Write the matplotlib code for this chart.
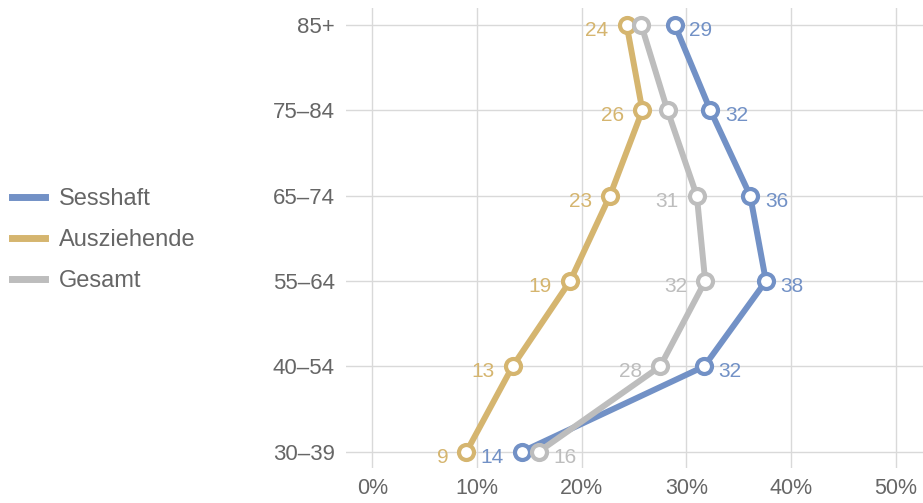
import matplotlib
matplotlib.use("Agg")
import matplotlib.pyplot as plt
from matplotlib.ticker import FuncFormatter

# Daten
altersgruppen = ["30–39", "40–54", "55–64", "65–74", "75–84", "85+"]
sesshaft = [14.3, 31.7, 37.6, 36.1, 32.3, 28.9]
ausziehende = [9.0, 13.4, 18.9, 22.7, 25.8, 24.3]
gesamt = [15.9, 27.5, 31.8, 31.0, 28.2, 25.7]
x_ticks = [0, 10, 20, 30, 40, 50]

plt.rcParams['font.family'] = ['Liberation Sans', 'DejaVu Sans']

BLAU = '#7291c6'
GOLD = '#d5b56f'
GRAU = '#bdbdbd'
TEXT = '#666666'

fig = plt.figure(figsize=(9.23, 5.03), dpi=100)
ax = fig.add_axes([0.3749, 0.0696, 0.6251, 0.9145])

y = list(range(len(altersgruppen)))

# Reihen: (Name, Werte, Farbe, Beschriftungsseite je Punkt)
reihen = [
    ("Sesshaft", sesshaft, BLAU, ['l', 'r', 'r', 'r', 'r', 'r']),
    ("Ausziehende", ausziehende, GOLD, ['l'] * 6),
    ("Gesamt", gesamt, GRAU, ['r', 'l', 'l', 'l', None, None]),
]

for name, werte, farbe, seiten in reihen:
    ax.plot(werte, y, color=farbe, lw=4.3, marker='o', ms=10.8,
            mfc='white', mec=farbe, mew=3.0, label=name, zorder=3,
            solid_capstyle='round')
    for xv, yv, seite in zip(werte, y, seiten):
        if seite is None:
            continue
        if seite == 'r':
            ax.annotate(f"{round(xv):d}", (xv, yv), xytext=(10.5, -3.8),
                        textcoords='offset points', ha='left', va='center',
                        color=farbe, fontsize=15, zorder=4)
        else:
            ax.annotate(f"{round(xv):d}", (xv, yv), xytext=(-13, -3.8),
                        textcoords='offset points', ha='right', va='center',
                        color=farbe, fontsize=15, zorder=4)

ax.set_xlim(-2.5, 52.6)
ax.set_ylim(-0.19, 5.2)
ax.set_yticks(y)
ax.set_yticklabels(altersgruppen)
ax.set_xticks(x_ticks)
ax.xaxis.set_major_formatter(FuncFormatter(lambda v, p: f"{v:.0f}%"))

ax.grid(True, color='#d9d9d9', lw=1)
ax.set_axisbelow(True)
for s in ax.spines.values():
    s.set_visible(False)
ax.tick_params(axis='both', length=0, labelcolor=TEXT)
ax.tick_params(axis='y', pad=8, labelsize=16)
ax.tick_params(axis='x', pad=7, labelsize=15.5)

fig.legend(loc='center left', bbox_to_anchor=(0.013, 0.523), frameon=False,
           fontsize=17, handlelength=1.4, handletextpad=0.6,
           labelspacing=0.8, labelcolor=TEXT, borderpad=0, borderaxespad=0,
           handles=[plt.Line2D([], [], color=c, lw=5) for _, _, c, _ in reihen],
           labels=[n for n, _, _, _ in reihen])

fig.savefig("out.png", dpi=100)
